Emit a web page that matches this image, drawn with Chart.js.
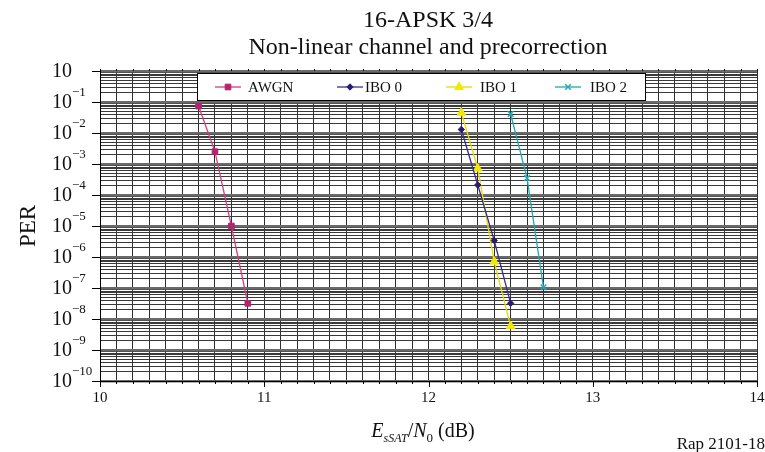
<!DOCTYPE html>
<html>
<head>
<meta charset="utf-8">
<title>16-APSK 3/4 PER</title>
<script src="https://cdn.jsdelivr.net/npm/chart.js@4.4.1/dist/chart.umd.min.js"></script>
<style>
  html, body { margin: 0; padding: 0; background: #fff; }
  #wrap { width: 765px; height: 452px; }
</style>
</head>
<body>
<div id="wrap"><canvas id="perChart" width="765" height="452"></canvas></div>
<script>
// PER vs Es/N0 for 16-APSK 3/4 over the non-linear channel
const titleLines = ['16-APSK 3/4', 'Non-linear channel and precorrection'];
const seriesNames = ['AWGN', 'IBO 0', 'IBO 1', 'IBO 2'];

const esn0Awgn = [10.6, 10.7, 10.8, 10.9];
const perAwgn  = [7.4e-2, 2.5e-3, 1.0e-5, 3.2e-8];
const esn0Ibo0 = [12.2, 12.3, 12.4, 12.5];
const perIbo0  = [1.3e-2, 2.1e-4, 3.4e-6, 3.2e-8];
const esn0Ibo1 = [12.2, 12.3, 12.4, 12.5];
const perIbo1  = [4.5e-2, 7.2e-4, 7.1e-7, 5.9e-9];
const esn0Ibo2 = [12.5, 12.6, 12.7];
const perIbo2  = [4.1e-2, 3.5e-4, 1.05e-7];

const xTickValues = [10, 11, 12, 13, 14];
const xTickLabels = ['10', '11', '12', '13', '14'];
const yTickValues = [1, 1e-1, 1e-2, 1e-3, 1e-4, 1e-5, 1e-6, 1e-7, 1e-8, 1e-9, 1e-10];
const yTickSups   = ['', '−1', '−2', '−3', '−4', '−5', '−6', '−7', '−8', '−9', '−10'];

const SERIF = '"Liberation Serif", "DejaVu Serif", serif';

function toPoints(xs, ys) {
  return xs.map((x, i) => ({ x, y: ys[i] }));
}

function isDecade(v) {
  const l = Math.log10(v);
  return Math.abs(l - Math.round(l)) < 1e-6;
}

const styles = [
  { line: '#d0407e', fill: '#b3246e', pointStyle: 'rect', radius: 4 },
  { line: '#3b2d8c', fill: '#2c1a70', pointStyle: 'rectRot', radius: 3.2 },
  { line: '#e6dc00', fill: '#f2e800', pointStyle: 'triangle', radius: 5 },
  { line: '#1eaab4', fill: '#1eaab4', pointStyle: 'crossRot', radius: 4 }
];

const seriesData = [
  toPoints(esn0Awgn, perAwgn),
  toPoints(esn0Ibo0, perIbo0),
  toPoints(esn0Ibo1, perIbo1),
  toPoints(esn0Ibo2, perIbo2)
];

const datasets = seriesNames.map((name, i) => ({
  label: name,
  data: seriesData[i],
  borderColor: styles[i].line,
  backgroundColor: styles[i].fill,
  pointBackgroundColor: styles[i].fill,
  pointBorderColor: styles[i].pointStyle === 'crossRot' ? styles[i].line : styles[i].fill,
  pointStyle: styles[i].pointStyle,
  pointRadius: styles[i].radius,
  pointBorderWidth: styles[i].pointStyle === 'crossRot' ? 1.4 : 1,
  borderWidth: 1.3,
  tension: 0,
  fill: false
}));

function drawMarker(ctx, st, x, y) {
  ctx.save();
  ctx.fillStyle = st.fill;
  ctx.strokeStyle = st.pointStyle === 'crossRot' ? st.line : st.fill;
  ctx.lineWidth = st.pointStyle === 'crossRot' ? 1.4 : 1;
  if (Chart.helpers && Chart.helpers.drawPoint) {
    Chart.helpers.drawPoint(ctx, { pointStyle: st.pointStyle, radius: st.radius, borderWidth: ctx.lineWidth, rotation: 0 }, x, y);
  } else {
    ctx.fillRect(x - st.radius, y - st.radius, st.radius * 2, st.radius * 2);
  }
  ctx.restore();
}

// axis labels, tick marks, titles and the boxed legend
const decorPlugin = {
  id: 'perDecor',
  afterDraw(chart) {
    const ctx = chart.ctx;
    const xs = chart.scales.x;
    const ys = chart.scales.y;
    const area = chart.chartArea;
    ctx.save();

    // tick marks outside the frame
    ctx.strokeStyle = '#000';
    ctx.lineWidth = 1;
    ctx.beginPath();
    yTickValues.forEach(v => {
      const py = Math.round(ys.getPixelForValue(v)) + 0.5;
      ctx.moveTo(area.left - 8, py);
      ctx.lineTo(area.left, py);
    });
    for (let k = 100; k <= 140; k++) {
      const px = Math.round(xs.getPixelForValue(k / 10)) + 0.5;
      const len = k % 10 === 0 ? 6 : 3;
      ctx.moveTo(px, area.bottom);
      ctx.lineTo(px, area.bottom + len);
      ctx.moveTo(px, area.top);
      ctx.lineTo(px, area.top - 2);
    }
    ctx.stroke();

    // y tick labels: 10 with a raised exponent
    ctx.fillStyle = '#111';
    yTickValues.forEach((v, i) => {
      const py = ys.getPixelForValue(v);
      ctx.font = '20px ' + SERIF;
      ctx.textAlign = 'right';
      ctx.textBaseline = 'middle';
      ctx.fillText('10', 72, py + 1);
      if (yTickSups[i]) {
        ctx.font = '13px ' + SERIF;
        ctx.textAlign = 'left';
        ctx.fillText(yTickSups[i], 72, py - 9);
      }
    });

    // x tick labels
    ctx.font = '15px ' + SERIF;
    ctx.textAlign = 'center';
    ctx.textBaseline = 'middle';
    xTickValues.forEach((v, i) => {
      ctx.fillText(xTickLabels[i], xs.getPixelForValue(v), 398);
    });

    // title
    ctx.font = '24px ' + SERIF;
    ctx.textBaseline = 'alphabetic';
    ctx.fillText(titleLines[0], 428, 27);
    ctx.fillText(titleLines[1], 428, 54);

    // y axis title
    ctx.save();
    ctx.translate(29, 226);
    ctx.rotate(-Math.PI / 2);
    ctx.font = '23px ' + SERIF;
    ctx.textAlign = 'center';
    ctx.textBaseline = 'middle';
    ctx.fillText('PER', 0, 0);
    ctx.restore();

    // x axis title with subscripts
    const parts = [
      { t: 'E', f: 'italic 20px ' + SERIF, dy: 0 },
      { t: 'sSAT', f: 'italic 12px ' + SERIF, dy: 5 },
      { t: '/', f: '20px ' + SERIF, dy: 0 },
      { t: 'N', f: 'italic 20px ' + SERIF, dy: 0 },
      { t: '0', f: '13px ' + SERIF, dy: 5 },
      { t: ' (dB)', f: '20px ' + SERIF, dy: 0 }
    ];
    let total = 0;
    parts.forEach(p => { ctx.font = p.f; p.w = ctx.measureText(p.t).width; total += p.w; });
    let cx = 423 - total / 2;
    ctx.textAlign = 'left';
    ctx.textBaseline = 'alphabetic';
    parts.forEach(p => {
      ctx.font = p.f;
      ctx.fillText(p.t, cx, 437 + p.dy);
      cx += p.w;
    });

    // figure reference
    ctx.font = '17px ' + SERIF;
    ctx.textAlign = 'right';
    ctx.fillText('Rap 2101-18', 765, 449);

    // legend box
    ctx.fillStyle = '#fff';
    ctx.fillRect(197, 73, 448, 27);
    ctx.strokeStyle = '#000';
    ctx.lineWidth = 1;
    ctx.strokeRect(197.5, 73.5, 448, 27);

    const sampleX = [215, 337, 446, 555];
    const textX = [248, 365, 480, 590];
    const ly = 87;
    seriesNames.forEach((name, i) => {
      const st = styles[i];
      ctx.strokeStyle = st.line;
      ctx.lineWidth = 1.3;
      ctx.beginPath();
      ctx.moveTo(sampleX[i], ly);
      ctx.lineTo(sampleX[i] + 26, ly);
      ctx.stroke();
      drawMarker(ctx, st, sampleX[i] + 13, ly);
      ctx.fillStyle = '#111';
      ctx.font = '15px ' + SERIF;
      ctx.textAlign = 'left';
      ctx.textBaseline = 'middle';
      ctx.fillText(name, textX[i], ly + 1);
    });

    ctx.restore();
  }
};

new Chart(document.getElementById('perChart'), {
  type: 'line',
  data: { datasets },
  options: {
    responsive: false,
    animation: false,
    devicePixelRatio: 1,
    layout: { padding: { left: 100, right: 8, top: 71, bottom: 71 } },
    plugins: { legend: { display: false }, tooltip: { enabled: false } },
    scales: {
      x: {
        type: 'linear',
        min: 10,
        max: 14,
        afterBuildTicks: scale => {
          const t = [];
          for (let k = 100; k <= 140; k++) t.push({ value: k / 10 });
          scale.ticks = t;
        },
        ticks: { display: false },
        grid: { color: '#2e2e2e', lineWidth: 1, drawTicks: false },
        border: { display: true, color: '#000', width: 1 }
      },
      y: {
        type: 'logarithmic',
        min: 1e-10,
        max: 1,
        afterBuildTicks: scale => {
          const t = [];
          for (let e = -10; e < 0; e++) {
            for (let k = 1; k <= 9; k++) t.push({ value: k * Math.pow(10, e) });
          }
          t.push({ value: 1 });
          scale.ticks = t;
        },
        ticks: { display: false },
        grid: {
          color: c => (c.tick && isDecade(c.tick.value)) ? '#6a6a6a' : '#3a3a3a',
          lineWidth: c => (c.tick && isDecade(c.tick.value)) ? 2.5 : 1,
          drawTicks: false
        },
        border: { display: true, color: '#000', width: 1 }
      }
    }
  },
  plugins: [decorPlugin]
});
</script>
</body>
</html>
